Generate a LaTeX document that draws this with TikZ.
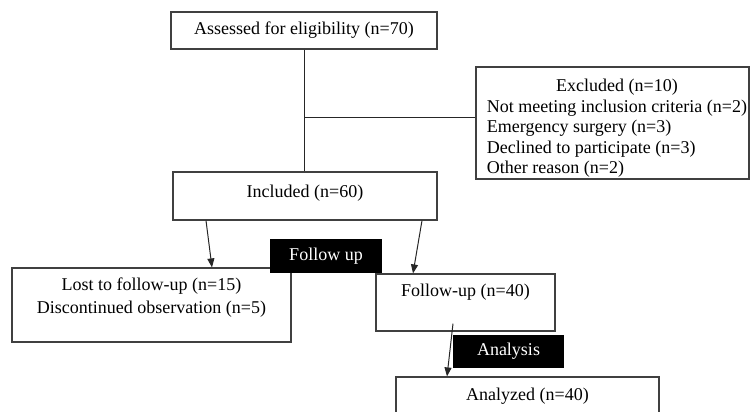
\documentclass[tikz,border=0pt]{standalone}
\usepackage{fontspec}
\setmainfont{Liberation Serif}
\usepackage{tikz}
\usetikzlibrary{positioning, arrows.meta}

\begin{document}
\begin{tikzpicture}
    [
        x=1pt, y=-1pt, node distance=10pt,
        white_box/.style={rectangle, draw=black!75, fill=white, line width=0.4mm, inner sep=0pt, font=\fontsize{18}{20.5}\selectfont},
        black_tag/.style={rectangle, fill=black, text=white, inner sep=0pt, font=\fontsize{18}{20.5}\selectfont},
        box_text/.style={inner sep=0pt, align=center, font=\fontsize{18}{20.5}\selectfont},
        flow_line/.style={line width=0.35mm, color=black!85},
        flow_arrow/.style={-{Triangle[length=9pt, width=7pt]}, line width=0.35mm, color=black!85},
    ]
        \useasboundingbox (0,0) rectangle (753,412) ;
        \clip (0,0) rectangle (753,412) ;
        % boxes
        \node[white_box, minimum width=266pt, minimum height=37pt] (assess) at (304,30.5) {Assessed for eligibility (n=70)} ;
        \node[white_box, minimum width=273pt, minimum height=112pt] (excl) at (612.5,123) {} ;
        \node[white_box, minimum width=264pt, minimum height=48pt] (incl) at (305,196) {} ;
        \node[white_box, minimum width=279pt, minimum height=74pt] (lost) at (151.5,305) {} ;
        \node[white_box, minimum width=179pt, minimum height=57pt] (fup) at (465.5,302.5) {} ;
        \node[white_box, minimum width=263pt, minimum height=63pt] (analyzed) at (527.5,408.5) {} ;
        % texts inside the boxes
        \node[box_text] (excl_text) at ([xshift=4.5pt, yshift=-5.5pt]excl.center) {\begin{tabular}{@{}l@{}}\multicolumn{1}{@{}c@{}}{Excluded (n=10)}\\ Not meeting inclusion criteria (n=2)\\ Emergency surgery (n=3)\\ Declined to participate (n=3)\\ Other reason (n=2)\end{tabular}} ;
        \node[box_text, below=13pt of incl.north] (incl_text) {Included (n=60)} ;
        \node[box_text, below=10.5pt of lost.north] (lost_text) {Lost to follow-up (n=15)\\[2.5pt] Discontinued observation (n=5)} ;
        \node[box_text, below=10.5pt of fup.north] (fup_text) {Follow-up (n=40)} ;
        \node[box_text, below=11.5pt of analyzed.north] (analyzed_text) {Analyzed (n=40)} ;
        % black tags
        \node[black_tag, minimum width=112pt, minimum height=34pt] (tag_follow) at (326,256) {Follow up} ;
        \node[black_tag, minimum width=111pt, minimum height=33pt] (tag_analysis) at (508.5,351.5) {Analysis} ;
        % connectors
        \draw[flow_line] (assess.south) -- (assess.south |- incl.north) ;
        \draw[flow_line] ([yshift=6pt]excl.west) -- ([yshift=6pt]excl.west -| assess.south) ;
        \draw[flow_arrow] ([xshift=-99pt]incl.south) to ([xshift=60.5pt]lost.north) ;
        \draw[flow_arrow] ([xshift=117pt]incl.south) to ([xshift=-52.5pt]fup.north) ;
        \draw[flow_arrow] ([xshift=-12.5pt, yshift=8pt]fup.south) to ([xshift=-80.5pt]analyzed.north) ;
    \end{tikzpicture}
\end{document}
